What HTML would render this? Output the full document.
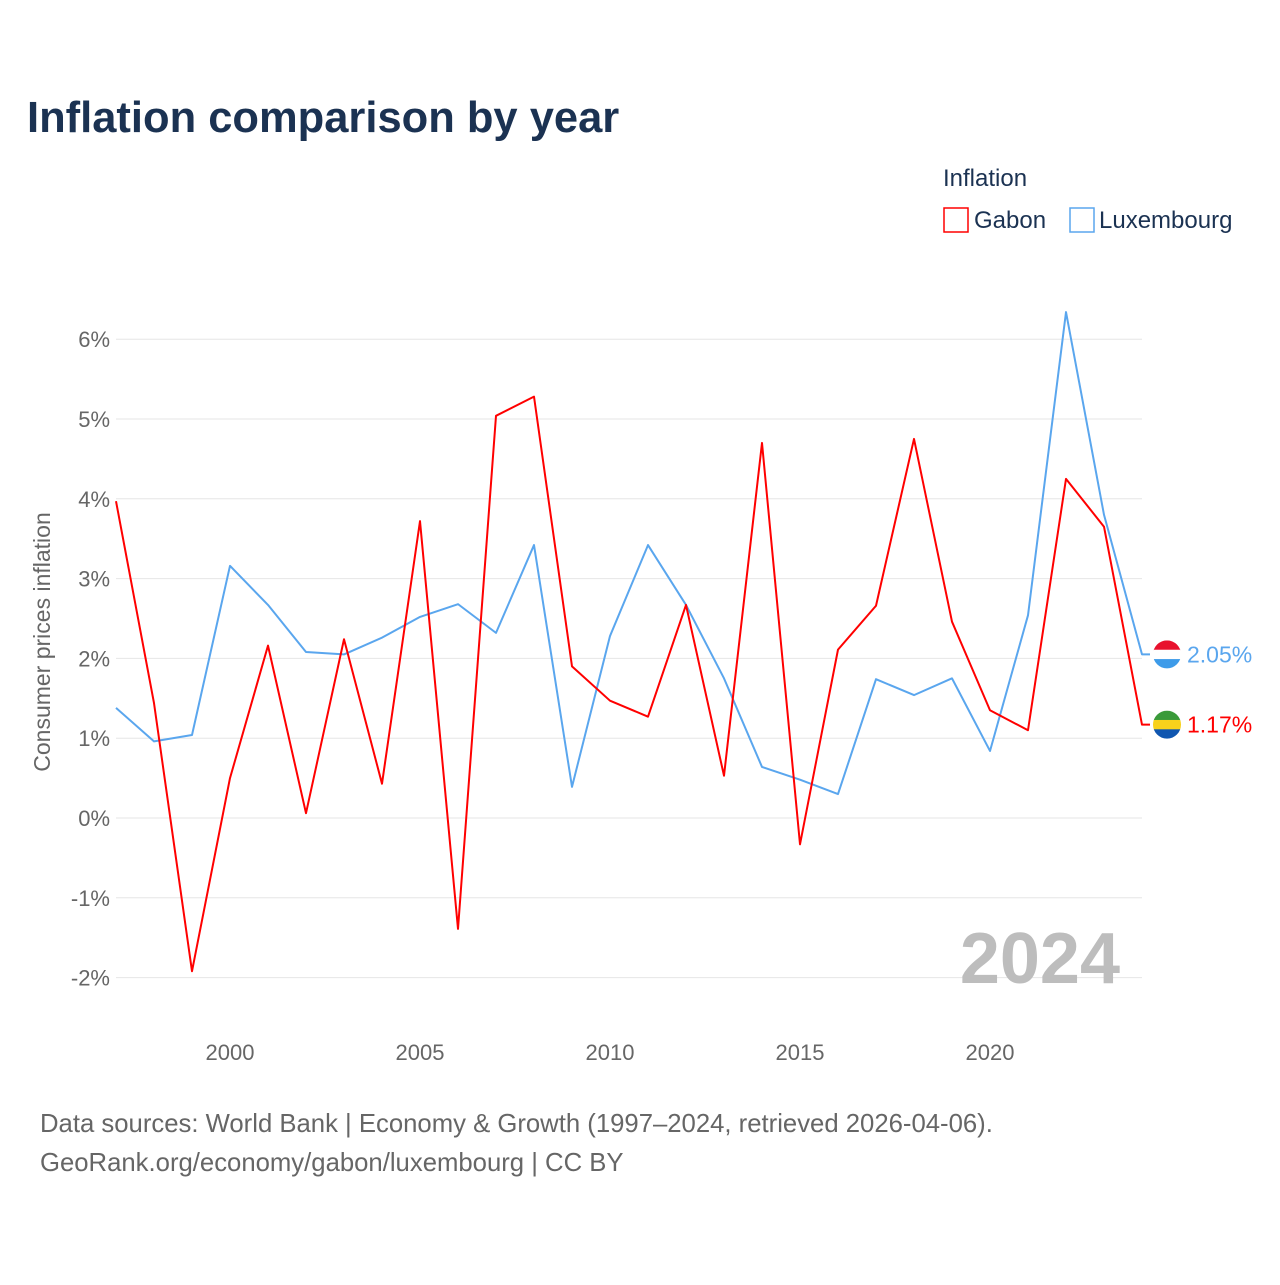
<!DOCTYPE html>
<html><head><meta charset="utf-8"><style>
body{margin:0;background:#fff;font-family:"Liberation Sans",sans-serif}
</style></head><body>
<svg width="1280" height="1280" xmlns="http://www.w3.org/2000/svg" font-family="Liberation Sans, sans-serif">
<text x="27" y="132" font-size="43.5" font-weight="bold" fill="#1b3252">Inflation comparison by year</text>
<text x="943" y="186" font-size="24" fill="#1b3252">Inflation</text>
<g><rect x="944" y="208" width="24" height="24" fill="none" stroke="#ff0000" stroke-width="1.5"/><text x="974" y="228" font-size="24" fill="#1b3252">Gabon</text></g>
<g><rect x="1070" y="208" width="24" height="24" fill="none" stroke="#5aa6ee" stroke-width="1.5"/><text x="1099" y="228" font-size="24" fill="#1b3252">Luxembourg</text></g>
<g id="grid"></g>
<g id="yticks"></g>
<g id="xticks"></g>
<text x="1120" y="983" font-size="72" font-weight="bold" fill="#bdbdbd" text-anchor="end">2024</text>
<text transform="translate(50,642) rotate(-90)" font-size="23" fill="#666" text-anchor="middle">Consumer prices inflation</text>
<g id="series"></g>
<text x="40" y="1132" font-size="25.7" fill="#666">Data sources: World Bank | Economy &amp; Growth (1997–2024, retrieved 2026-04-06).</text>
<text x="40" y="1171" font-size="25.7" fill="#666">GeoRank.org/economy/gabon/luxembourg | CC BY</text>
</svg>
<script>
const years=[1997,1998,1999,2000,2001,2002,2003,2004,2005,2006,2007,2008,2009,2010,2011,2012,2013,2014,2015,2016,2017,2018,2019,2020,2021,2022,2023,2024];
const gabon=[3.97,1.44,-1.92,0.50,2.16,0.06,2.24,0.43,3.72,-1.39,5.04,5.28,1.90,1.47,1.27,2.67,0.53,4.70,-0.33,2.11,2.66,4.75,2.46,1.35,1.10,4.25,3.65,1.17];
const luxembourg=[1.38,0.96,1.04,3.16,2.67,2.08,2.05,2.26,2.52,2.68,2.32,3.42,0.39,2.28,3.42,2.67,1.75,0.64,0.48,0.30,1.74,1.54,1.75,0.84,2.54,6.34,3.80,2.05];
const yTicks=[-2,-1,0,1,2,3,4,5,6];
const xTicks=[2000,2005,2010,2015,2020];
const NS="http://www.w3.org/2000/svg";
const xs=y=>116+(y-1997)*38;
const ys=v=>818-v*79.8;
function mk(t,a,p){const e=document.createElementNS(NS,t);for(const k in a)e.setAttribute(k,a[k]);p.appendChild(e);return e;}
const grid=document.getElementById('grid'),yt=document.getElementById('yticks'),xt=document.getElementById('xticks'),ser=document.getElementById('series');
yTicks.forEach(v=>{
const l=mk('line',{x1:116,x2:1142,y1:ys(v),y2:ys(v),stroke:'#e6e6e6','stroke-width':1},grid);


const t=mk('text',{x:110,y:ys(v)+8,'font-size':22,fill:'#666','text-anchor':'end'},yt);
t.textContent=v+'%';


});
xTicks.forEach(v=>{
const t=mk('text',{x:xs(v),y:1060,'font-size':22,fill:'#666','text-anchor':'middle'},xt);
t.textContent=v;


});
function line(d,c,name){
let p=d.map((v,i)=>(i?'L':'M')+xs(years[i])+','+ys(v)).join('');
p+='L'+(xs(years[years.length-1])+8)+','+ys(d[d.length-1]);
const e=mk('path',{d:p,fill:'none',stroke:c,'stroke-width':2,'stroke-linejoin':'round'},ser);


}
line(luxembourg,'#5aa6ee','series-luxembourg');
line(gabon,'#ff0000','series-gabon');
function flag(v,cols,c,name){
const cy=ys(v),cx=1167,r=14;
const g=mk('g',{},ser);


const id='c'+name;
const cp=mk('clipPath',{id:id},g);mk('circle',{cx:cx,cy:cy,r:r},cp);
cols.forEach((col,i)=>mk('rect',{x:cx-r,y:cy-r+i*2*r/3,width:2*r,height:2*r/3+0.5,fill:col,'clip-path':'url(#'+id+')'},g));
const t=mk('text',{x:1187,y:cy+8,'font-size':23,fill:c},g);
t.textContent=v.toFixed(2)+'%';
}
flag(luxembourg[luxembourg.length-1],['#e8112d','#ffffff','#3d9be9'],'#5aa6ee','end-label-luxembourg');
flag(gabon[gabon.length-1],['#3a9a3a','#f8d21c','#1056b0'],'#ff0000','end-label-gabon');
</script>
</body></html>
